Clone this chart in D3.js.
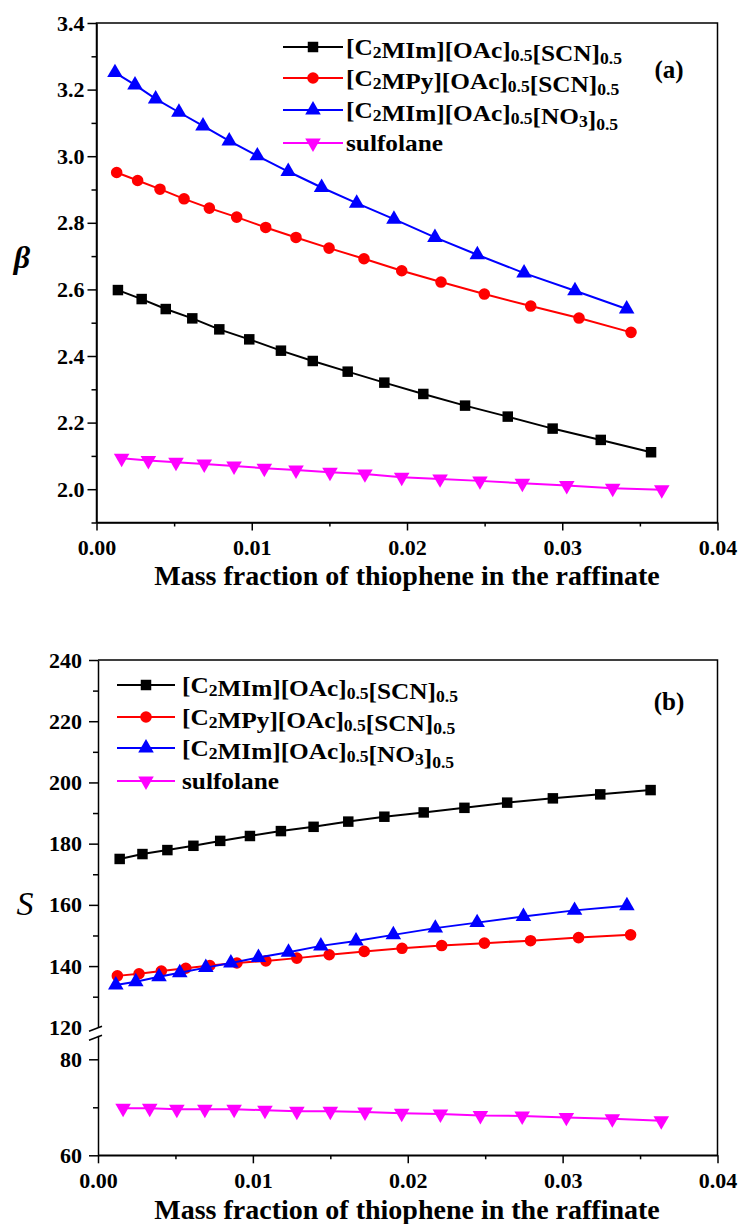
<!DOCTYPE html>
<html lang="en">
<head>
  <meta charset="UTF-8">
  <title>Beta and S vs thiophene mass fraction</title>
  <script src="https://d3js.org/d3.v7.min.js"></script>
  <style>
    body {
      margin: 0;
      background: #ffffff;
    }
    svg, svg text, svg g {
      font-family: "Liberation Serif", "Times New Roman", serif;
    }
    svg text {
      fill: #000;
    }
    .tick text {
      font-size: 22px;
      font-weight: bold;
    }
    .domain, .tick line {
      stroke: #000;
      stroke-width: 1.5;
    }
  </style>
</head>
<body>
  <svg width="739" height="1224"></svg>

  <script>
    // series names (legend parts: [text, isSub])
    const seriesNames = [
      [["[C", 0], ["2", 1], ["MIm][OAc]", 0], ["0.5", 1], ["[SCN]", 0], ["0.5", 1]],
      [["[C", 0], ["2", 1], ["MPy][OAc]", 0], ["0.5", 1], ["[SCN]", 0], ["0.5", 1]],
      [["[C", 0], ["2", 1], ["MIm][OAc]", 0], ["0.5", 1], ["[NO", 0], ["3", 1], ["]", 0], ["0.5", 1]],
      [["sulfolane", 0]]
    ];
    const colors = ["#000000", "#ff0000", "#0000ff", "#ff00ff"];
    const symbols = ["square", "circle", "triangle", "down"];

    // panel (a): beta
    const xA_SCN_Im = [0.00138, 0.00291, 0.00446, 0.00617, 0.00791, 0.00984, 0.01188, 0.01393, 0.01618, 0.01854, 0.02105, 0.02374, 0.02649, 0.02938, 0.03248, 0.03572];
    const betaSCN_Im = [2.598, 2.571, 2.541, 2.513, 2.480, 2.450, 2.416, 2.385, 2.353, 2.320, 2.286, 2.251, 2.218, 2.182, 2.148, 2.111];
    const xA_SCN_Py = [0.00130, 0.00265, 0.00409, 0.00564, 0.00727, 0.00903, 0.01090, 0.01285, 0.01498, 0.01723, 0.01966, 0.02219, 0.02498, 0.02797, 0.03108, 0.03443];
    const betaSCN_Py = [2.951, 2.927, 2.901, 2.872, 2.844, 2.817, 2.786, 2.756, 2.724, 2.692, 2.656, 2.622, 2.586, 2.550, 2.514, 2.471];
    const xA_NO3 = [0.00119, 0.00248, 0.00381, 0.00531, 0.00686, 0.00855, 0.01036, 0.01235, 0.01450, 0.01676, 0.01916, 0.02180, 0.02453, 0.02754, 0.03082, 0.03415];
    const betaNO3 = [3.251, 3.214, 3.172, 3.132, 3.091, 3.046, 3.001, 2.954, 2.906, 2.859, 2.811, 2.756, 2.704, 2.649, 2.596, 2.541];
    const xA_Sulf = [0.00162, 0.00334, 0.00512, 0.00694, 0.00886, 0.01081, 0.01285, 0.01504, 0.01729, 0.01966, 0.02213, 0.02470, 0.02743, 0.03029, 0.03325, 0.03641];
    const betaSulf = [2.093, 2.086, 2.081, 2.076, 2.070, 2.063, 2.058, 2.051, 2.046, 2.036, 2.031, 2.025, 2.018, 2.011, 2.003, 1.998];

    // panel (b): S
    const xB_SCN_Im = [0.00140, 0.00287, 0.00448, 0.00616, 0.00789, 0.00981, 0.01181, 0.01392, 0.01616, 0.01849, 0.02103, 0.02366, 0.02642, 0.02937, 0.03243, 0.03568];
    const sSCN_Im = [175.0, 176.6, 177.9, 179.3, 180.9, 182.5, 184.1, 185.5, 187.2, 188.8, 190.2, 191.7, 193.4, 194.8, 196.1, 197.5];
    const xB_SCN_Py = [0.00125, 0.00265, 0.00409, 0.00567, 0.00722, 0.00897, 0.01084, 0.01284, 0.01493, 0.01719, 0.01963, 0.02219, 0.02495, 0.02793, 0.03103, 0.03439];
    const sSCN_Py = [136.8, 137.5, 138.4, 139.3, 140.2, 141.0, 141.7, 142.6, 143.7, 144.8, 145.8, 146.7, 147.5, 148.3, 149.3, 150.2];
    const xB_NO3 = [0.00115, 0.00244, 0.00394, 0.00528, 0.00696, 0.00858, 0.01036, 0.01230, 0.01439, 0.01666, 0.01907, 0.02178, 0.02448, 0.02747, 0.03077, 0.03415];
    const sNO3 = [133.8, 134.9, 136.5, 137.8, 139.5, 141.0, 142.8, 144.5, 146.6, 148.2, 150.2, 152.4, 154.2, 156.2, 158.2, 159.7];
    const xB_Sulf = [0.00162, 0.00334, 0.00509, 0.00690, 0.00879, 0.01078, 0.01284, 0.01500, 0.01724, 0.01961, 0.02211, 0.02469, 0.02739, 0.03024, 0.03321, 0.03637];
    const sSulf = [69.8, 69.8, 69.6, 69.6, 69.6, 69.4, 69.2, 69.2, 69.0, 68.75, 68.6, 68.3, 68.2, 67.9, 67.6, 67.2];

    // tick values
    const xTicks = [0, 0.01, 0.02, 0.03, 0.04];
    const xMinor = [0.005, 0.015, 0.025, 0.035];
    const betaTicks = [2.0, 2.2, 2.4, 2.6, 2.8, 3.0, 3.2, 3.4];
    const betaMinor = [1.9, 2.1, 2.3, 2.5, 2.7, 2.9, 3.1, 3.3];
    const sUpperTicks = [120, 140, 160, 180, 200, 220, 240];
    const sUpperMinor = [130, 150, 170, 190, 210, 230];
    const sLowerTicks = [60, 80];
    const sLowerMinor = [70];

    const xTitle = "Mass fraction of thiophene in the raffinate";
    const FONT = "Liberation Serif, Times New Roman, serif";

    const svg = d3.select("svg");

    function symbolPath(kind) {
      if (kind === "square") return d3.symbol(d3.symbolSquare, 110)();
      if (kind === "circle") return d3.symbol(d3.symbolCircle, 105)();
      return d3.symbol(d3.symbolTriangle, 105)();
    }

    function drawSeries(g, xs, ys, x, y, i) {
      const pts = xs.map((v, k) => [v, ys[k]]);
      g.append("path")
        .datum(pts)
        .attr("fill", "none")
        .attr("stroke", colors[i])
        .attr("stroke-width", 2)
        .attr("d", d3.line().x(d => x(d[0])).y(d => y(d[1])));
      g.selectAll(null)
        .data(pts)
        .enter().append("path")
        .attr("d", symbolPath(symbols[i]))
        .attr("fill", colors[i])
        .attr("transform", d => "translate(" + x(d[0]) + "," + y(d[1]) + ")" + (symbols[i] === "down" ? " rotate(180)" : ""));
    }

    function drawLegend(g, x0, x1, tx, rows) {
      seriesNames.forEach((parts, i) => {
        const yy = rows[i];
        g.append("line")
          .attr("x1", x0).attr("x2", x1)
          .attr("y1", yy).attr("y2", yy)
          .attr("stroke", colors[i]).attr("stroke-width", 2);
        g.append("path")
          .attr("d", symbolPath(symbols[i]))
          .attr("fill", colors[i])
          .attr("transform", "translate(" + ((x0 + x1) / 2) + "," + yy + ")" + (symbols[i] === "down" ? " rotate(180)" : ""));
        // text slightly stretched sideways, like the original figure
        const t = g.append("text")
          .attr("transform", "translate(" + tx + "," + (yy + 8) + ") scale(1.1,1)")
          .style("font-family", FONT)
          .style("font-size", "23px").style("font-weight", "bold");
        parts.forEach(p => {
          if (p[1]) {
            t.append("tspan").attr("dy", 3).style("font-size", "16px").text(p[0]);
            t.append("tspan").attr("dy", -3).text("");
          } else {
            t.append("tspan").text(p[0]);
          }
        });
      });
    }

    function xAxes(g, x, yBottom) {
      g.append("g")
        .attr("transform", "translate(0," + yBottom + ")")
        .call(d3.axisBottom(x).tickValues(xTicks).tickFormat(d3.format(".2f")).tickSize(8).tickSizeOuter(0).tickPadding(9))
        .attr("font-family", FONT);
      g.append("g")
        .attr("transform", "translate(0," + yBottom + ")")
        .call(d3.axisBottom(x).tickValues(xMinor).tickFormat("").tickSize(4).tickSizeOuter(0))
        .select(".domain").remove();
    }

    // ---------- panel (a) ----------
    const xA = d3.scaleLinear().domain([0, 0.04]).range([96.5, 717.5]);
    const yA = d3.scaleLinear().domain([1.9, 3.4]).range([522.5, 23]);
    const gA = svg.append("g");

    gA.append("rect")
      .attr("x", xA(0)).attr("y", yA(3.4))
      .attr("width", xA(0.04) - xA(0)).attr("height", yA(1.9) - yA(3.4))
      .attr("fill", "none").attr("stroke", "#000").attr("stroke-width", 1.5);

    xAxes(gA, xA, yA(1.9));
    gA.append("g")
      .attr("transform", "translate(" + xA(0) + ",0)")
      .call(d3.axisLeft(yA).tickValues(betaTicks).tickFormat(d3.format(".1f")).tickSize(9).tickSizeOuter(0).tickPadding(3))
      .attr("font-family", FONT);
    gA.append("g")
      .attr("transform", "translate(" + xA(0) + ",0)")
      .call(d3.axisLeft(yA).tickValues(betaMinor).tickFormat("").tickSize(5).tickSizeOuter(0))
      .select(".domain").remove();

    drawSeries(gA, xA_SCN_Im, betaSCN_Im, xA, yA, 0);
    drawSeries(gA, xA_SCN_Py, betaSCN_Py, xA, yA, 1);
    drawSeries(gA, xA_NO3, betaNO3, xA, yA, 2);
    drawSeries(gA, xA_Sulf, betaSulf, xA, yA, 3);

    drawLegend(gA, 283, 343, 346, [47, 78, 110, 143]);

    gA.append("text").attr("x", 669).attr("y", 78).attr("text-anchor", "middle")
      .style("font-family", FONT)
      .style("font-size", "25px").style("font-weight", "bold").text("(a)");
    gA.append("text").attr("x", 22).attr("y", 268).attr("text-anchor", "middle")
      .style("font-family", FONT)
      .style("font-size", "32px").style("font-weight", "bold").style("font-style", "italic").text("β");
    gA.append("text").attr("x", 407).attr("y", 585).attr("text-anchor", "middle")
      .style("font-family", FONT)
      .style("font-size", "28px").style("font-weight", "bold").text(xTitle);

    // ---------- panel (b) with broken y axis ----------
    const xB = d3.scaleLinear().domain([0, 0.04]).range([98, 717.5]);
    const yUp = d3.scaleLinear().domain([120, 240]).range([1027.3, 660]);
    const yLow = d3.scaleLinear().domain([60, 85]).range([1155.3, 1035.3]);
    const yB = v => (v >= 100 ? yUp(v) : yLow(v));
    const gB = svg.append("g");

    // frame without left side
    gB.append("path")
      .attr("d", d3.line()([[xB(0), yUp(240)], [xB(0.04), yUp(240)], [xB(0.04), yLow(60)], [xB(0), yLow(60)]]))
      .attr("fill", "none").attr("stroke", "#000").attr("stroke-width", 1.5);

    xAxes(gB, xB, yLow(60));

    const upAxis = gB.append("g")
      .attr("transform", "translate(" + xB(0) + ",0)")
      .call(d3.axisLeft(yUp).tickValues(sUpperTicks).tickFormat(d3.format("d")).tickSize(9).tickSizeOuter(0).tickPadding(7))
      .attr("font-family", FONT);
    gB.append("g")
      .attr("transform", "translate(" + xB(0) + ",0)")
      .call(d3.axisLeft(yUp).tickValues(sUpperMinor).tickFormat("").tickSize(5).tickSizeOuter(0))
      .select(".domain").remove();
    upAxis.selectAll(".tick").filter(d => d === 120).select("line").remove();

    gB.append("g")
      .attr("transform", "translate(" + xB(0) + ",0)")
      .call(d3.axisLeft(yLow).tickValues(sLowerTicks).tickFormat(d3.format("d")).tickSize(9).tickSizeOuter(0).tickPadding(7))
      .attr("font-family", FONT);
    gB.append("g")
      .attr("transform", "translate(" + xB(0) + ",0)")
      .call(d3.axisLeft(yLow).tickValues(sLowerMinor).tickFormat("").tickSize(5).tickSizeOuter(0))
      .select(".domain").remove();

    // break marks
    [yUp(120) + 1.5, yLow(85) + 2.5].forEach(yy => {
      gB.append("line")
        .attr("x1", xB(0) - 9).attr("y1", yy + 2.5)
        .attr("x2", xB(0) + 4).attr("y2", yy - 2.5)
        .attr("stroke", "#000").attr("stroke-width", 1.5);
    });

    drawSeries(gB, xB_SCN_Im, sSCN_Im, xB, yB, 0);
    drawSeries(gB, xB_SCN_Py, sSCN_Py, xB, yB, 1);
    drawSeries(gB, xB_NO3, sNO3, xB, yB, 2);
    drawSeries(gB, xB_Sulf, sSulf, xB, yB, 3);

    drawLegend(gB, 117, 175, 182, [685, 717, 748, 781]);

    gB.append("text").attr("x", 669).attr("y", 710).attr("text-anchor", "middle")
      .style("font-family", FONT)
      .style("font-size", "25px").style("font-weight", "bold").text("(b)");
    gB.append("text").attr("x", 25).attr("y", 915).attr("text-anchor", "middle")
      .style("font-family", FONT)
      .style("font-size", "34px").style("font-style", "italic").text("S");
    gB.append("text").attr("x", 407).attr("y", 1219).attr("text-anchor", "middle")
      .style("font-family", FONT)
      .style("font-size", "28px").style("font-weight", "bold").text(xTitle);
  </script>
</body>
</html>
